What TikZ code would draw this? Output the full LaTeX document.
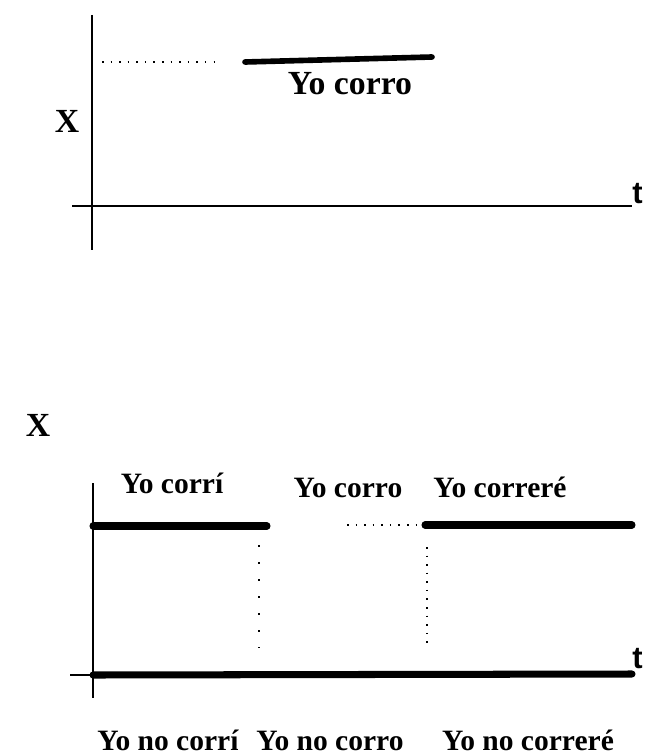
\documentclass[tikz,border=0pt]{standalone}
\usepackage{fontspec}
\setmainfont{Liberation Serif}
\newfontfamily\tfont{Liberation Sans}
\usetikzlibrary{positioning}

\begin{document}
\begin{tikzpicture}[x=0.025cm,y=-0.025cm,
		axis/.style={line width=1.4pt},
		heavy/.style={line width=5pt,line cap=round},
		dots/.style={line width=1.1pt,dash pattern=on 1.1pt off 5pt},
		lbl/.style={font=\fontsize{21}{24}\selectfont\bfseries,inner sep=0pt,anchor=base},
		xlbl/.style={font=\fontsize{24}{26}\selectfont\bfseries,inner sep=0pt},
		tlbl/.style={font=\fontsize{22}{24}\tfont\bfseries,inner sep=0pt,anchor=base west}]
	\useasboundingbox (0,0) rectangle (645,755);
	% present
	\coordinate (up1) at (92,15);            \coordinate (down1) at (92,250);
	\coordinate (left1) at (72,206);         \coordinate (right1) at (632,206);
	\coordinate (dot1) at (102,62);          \coordinate (dot2) at (217,62);
	\coordinate (now1) at (245,62);          \coordinate (now2) at (432,57);
	\draw [axis] (up1) -- (down1);           \draw [axis,line width=2pt] (left1) -- (right1);
	\draw [dots] (dot1) -- (dot2);           \draw [line width=4pt,line cap=round] (now1) -- (now2);
	\node [lbl,font=\fontsize{24}{26}\selectfont\bfseries] (corro) at (350,95) {Yo corro};
	\node [xlbl] (x1) at (67,121) {X};       \node [tlbl] (t1) at (632,203) {t};
	% past, present, future
	\coordinate (up2) at (93,483);           \coordinate (down2) at (93,698);
	\coordinate (left2) at (70,675);         \coordinate (o2) at (93,675);
	\coordinate (right2) at (632,674);
	\coordinate (pa) at (93,526);            \coordinate (pb) at (267,526);
	\coordinate (fa) at (425,525);           \coordinate (fb) at (632,525);
	\coordinate (da) at (347,525);           \coordinate (db) at (422,525);
	\coordinate (va) at (259,545);           \coordinate (vb) at (259,648);
	\coordinate (wa) at (427,547);           \coordinate (wb) at (427,643);
	\draw [axis] (up2) -- (down2);           \draw [axis,line width=2pt] (left2) -- (o2);
	\draw [heavy] (o2) -- (right2);
	\draw [heavy] (pa) -- (pb);              \draw [heavy] (fa) -- (fb);
	\draw [dots] (da) -- (db);
	\draw [dots,dash pattern=on 1.1pt off 11pt] (va) -- (vb);
	\draw [dots] (wa) -- (wb);
	\node [lbl] (corri) at (172,493) {Yo corrí};
	\node [lbl] (corro2) at (348,497) {Yo corro};
	\node [lbl] (correre) at (500,497) {Yo correré};
	\node [lbl] (nocorri) at (168,750) {Yo no corrí};
	\node [lbl] (nocorro) at (330,750) {Yo no corro};
	\node [lbl] (nocorrere) at (528,750) {Yo no correré};
	\node [xlbl] (x2) at (38,425) {X};       \node [tlbl] (t2) at (632,668) {t};
\end{tikzpicture}
\end{document}
